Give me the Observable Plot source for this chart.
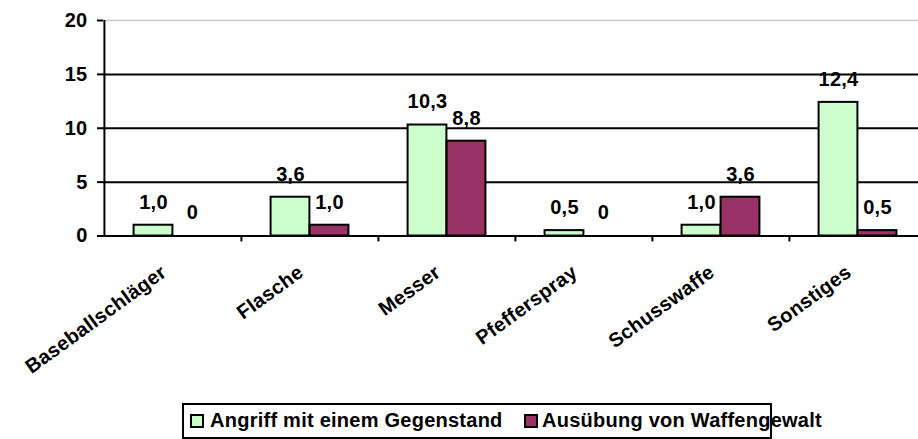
<!DOCTYPE html>
<html>
<head>
<meta charset="utf-8">
<script src="https://cdn.jsdelivr.net/npm/d3@7"></script>
<script src="https://cdn.jsdelivr.net/npm/@observablehq/plot@0.6"></script>
<style>
  html, body { margin: 0; padding: 0; background: #fff; overflow: hidden; }
  #chart { width: 918px; }
  .legend { position: relative; margin-left: 182px; margin-top: 3px; width: 590px; height: 36px;
    border: 2px solid #000; box-sizing: border-box; font-family: "Liberation Sans", Arial, sans-serif;
    font-weight: bold; font-size: 20px; letter-spacing: 0.25px; color: #000; }
  .legend .sw { position: absolute; top: 9px; width: 14px; height: 14px; border: 2px solid #000; box-sizing: border-box; }
  .legend .lb { position: absolute; top: 5px; line-height: 21px; white-space: nowrap; }
</style>
</head>
<body>
<div id="chart"></div>
<script>
const categories = ["Baseballschläger", "Flasche", "Messer", "Pfefferspray", "Schusswaffe", "Sonstiges"];
const seriesNames = ["Angriff mit einem Gegenstand", "Ausübung von Waffengewalt"];
const angriff = [1.0, 3.6, 10.3, 0.5, 1.0, 12.4];
const waffengewalt = [0, 1.0, 8.8, 0, 3.6, 0.5];
const yTicks = [0, 5, 10, 15, 20];
const colors = ["#CCFFCC", "#993366"];

const fmt = v => v === 0 ? "0" : v.toFixed(1).replace(".", ",");
const rowsA = categories.map((c, i) => ({category: c, value: angriff[i]}));
const rowsB = categories.map((c, i) => ({category: c, value: waffengewalt[i]}));

const W = 918, H = 400;
const plotLeft = 103, plotRight = 926, plotTop = 20, plotBottom = 235.5;
const bw = (plotRight - plotLeft) / categories.length;
const barW = 39;
const side = (bw - 2 * barW) / 2;
const font = "Liberation Sans, Arial, sans-serif";
const fs = 20;

const chart = Plot.plot({
  width: W,
  height: H,
  marginLeft: plotLeft,
  marginRight: 0,
  marginTop: plotTop,
  marginBottom: H - plotBottom,
  style: {fontFamily: font, color: "#000", background: "#fff", overflow: "visible"},
  x: {domain: categories, range: [plotLeft, plotRight], padding: 0, axis: null},
  y: {domain: [0, 20], axis: null},
  marks: [
    Plot.ruleY([20], {stroke: "#c8c8c8", strokeWidth: 1.5}),
    Plot.ruleY([5, 10, 15], {stroke: "#000", strokeWidth: 2}),
    Plot.barY(rowsA.filter(d => d.value > 0), {x: "category", y: "value", fill: colors[0], stroke: "#000", strokeWidth: 2, insetLeft: side, insetRight: bw / 2}),
    Plot.barY(rowsB.filter(d => d.value > 0), {x: "category", y: "value", fill: colors[1], stroke: "#000", strokeWidth: 2, insetLeft: bw / 2, insetRight: side}),
    Plot.ruleY([0], {stroke: "#000", strokeWidth: 2}),
    Plot.ruleX([categories[0]], {x: d => d, y1: 0, y2: 20, dx: -bw / 2, stroke: "#000", strokeWidth: 2}),
    Plot.ruleX(categories.slice(1), {x: d => d, y1: 0, y2: -0.55, dx: -bw / 2, stroke: "#000", strokeWidth: 2}),
    Plot.axisY(yTicks, {tickSize: 6, tickPadding: 10, strokeWidth: 2, label: null, fontSize: fs, fontWeight: "bold", fill: "#000"}),
    Plot.text(rowsA, {x: "category", y: "value", text: d => fmt(d.value), dx: -(barW / 2), dy: -23, fontSize: fs, fontWeight: "bold", fill: "#000"}),
    Plot.text(rowsB, {x: "category", y: "value", text: d => fmt(d.value), dx: barW / 2, dy: -23, fontSize: fs, fontWeight: "bold", fill: "#000"}),
    Plot.text(categories, {x: d => d, y: 0, text: d => d, rotate: -36, textAnchor: "end", lineAnchor: "middle", dx: -9, dy: 34, fontSize: fs, fontWeight: "bold", fill: "#000"})
  ]
});
chart.querySelectorAll("text").forEach(t => t.setAttribute("letter-spacing", "0.25"));
document.getElementById("chart").appendChild(chart);

const legend = document.createElement("div");
legend.className = "legend";
const items = [
  {sw: 6, lb: 26},
  {sw: 340, lb: 358}
];
seriesNames.forEach((name, i) => {
  const sw = document.createElement("div");
  sw.className = "sw";
  sw.style.left = items[i].sw + "px";
  sw.style.background = colors[i];
  const lb = document.createElement("div");
  lb.className = "lb";
  lb.style.left = items[i].lb + "px";
  lb.textContent = name;
  legend.appendChild(sw);
  legend.appendChild(lb);
});
document.getElementById("chart").appendChild(legend);
</script>
</body>
</html>
